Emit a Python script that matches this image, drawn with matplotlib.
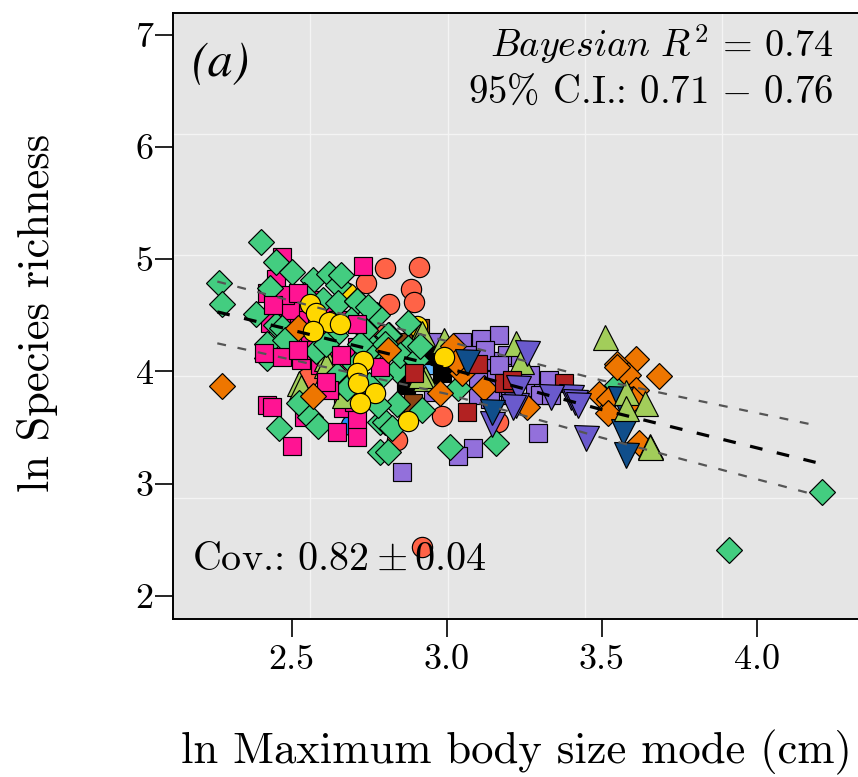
import numpy as np
import matplotlib
matplotlib.use("Agg")
import matplotlib.pyplot as plt

plt.rcParams['font.family'] = ['cmr10', 'DejaVu Sans']
plt.rcParams['mathtext.fontset'] = 'cm'
plt.rcParams['axes.unicode_minus'] = False
plt.rcParams['axes.formatter.use_mathtext'] = True

tomato_x = [2.80,2.74,2.91,2.885,2.895,2.815,2.645,2.55,2.62,2.84,2.985,3.165,2.92,2.785]
tomato_y = [4.92,4.79,4.93,4.73,4.62,4.60,4.13,3.94,4.10,3.39,3.60,3.55,2.44,4.32]
brown_x = [2.89,2.915,2.86,3.0]
brown_y = [3.72,4.39,4.26,4.20]
sky_x = [2.95]
sky_y = [4.07]
dodger_x = [2.69]
dodger_y = [3.52]
yellow_low_x = [2.68,2.905]
yellow_low_y = [4.70,4.40]
pink_low_x = [2.47,2.45,2.42,2.51,2.47,2.43,2.53,2.73,2.71,2.665,2.70,2.54,2.56,2.60,2.65,2.73,2.58,2.525,2.56,2.62,2.67,2.59,2.54,2.495,2.48,2.56,2.61]
pink_low_y = [5.02,4.82,4.70,4.56,4.46,4.43,4.10,4.94,4.22,3.67,3.73,3.59,4.64,4.55,4.46,4.22,4.30,4.46,4.24,4.19,4.01,4.06,4.19,4.55,4.68,4.64,4.32]
purple_x = [3.17,3.11,3.05,3.16,3.10,3.155,3.295,3.085,3.035,2.855,3.285,3.31,3.065,3.215,3.195,3.125,3.235,2.96,2.955,3.14,3.10,3.33,3.17,3.27,3.30,3.24,3.205,3.14,3.335]
purple_y = [4.32,4.29,4.26,4.09,3.79,3.86,3.45,3.32,3.25,3.10,3.82,3.88,4.15,4.13,4.15,4.19,4.13,4.26,3.82,3.92,3.94,3.92,4.06,3.97,3.79,3.70,3.79,3.75,3.79]
black_x = [2.985,2.87,2.935]
black_y = [3.99,3.88,4.15]
lime_low_x = [2.915,2.99,3.225,3.24,2.93,2.525,2.61,2.67,2.53,2.61,2.915,2.92]
lime_low_y = [4.34,4.28,4.25,4.09,3.94,3.90,4.12,3.79,3.86,4.06,3.97,4.34]
green_x = [2.40,2.265,2.275,2.45,2.50,2.43,2.385,2.57,2.62,2.65,2.66,2.54,2.60,2.65,2.71,2.45,2.47,2.42,2.42,2.58,2.645,2.69,2.525,2.56,2.585,2.46,2.785,2.785,2.775,2.775,2.815,2.875,2.76,2.875,2.84,2.785,2.84,2.80,2.92,2.81,3.01,3.035,3.16,3.91,4.21,3.55,2.71,2.745,2.81,2.68,2.825,2.76,2.69,2.735,2.80,2.85,2.72,2.64,2.705,2.75,2.61,2.48,2.90,2.915,2.78]
green_y = [5.15,4.79,4.60,4.97,4.885,4.74,4.51,4.81,4.87,4.77,4.86,4.68,4.64,4.61,4.63,4.41,4.39,4.24,4.12,4.18,3.97,3.90,3.72,3.59,3.51,3.50,3.55,3.28,4.22,4.50,4.32,4.43,4.22,4.21,4.01,3.95,3.71,3.55,3.66,3.28,3.33,3.85,3.36,2.41,2.93,3.88,4.63,4.57,4.32,3.85,3.50,4.22,4.46,4.37,4.24,4.15,4.24,4.32,4.06,3.88,4.24,4.28,4.10,4.23,3.70]
pink_top_x = [2.41,2.47,2.52,2.71,2.66,2.50,2.42,2.645,2.71,2.785,2.435,2.44,2.52,2.62,2.61,2.71]
pink_top_y = [4.16,4.13,4.19,4.42,4.15,3.34,3.70,3.46,3.57,4.04,3.68,4.59,4.70,3.83,3.91,3.42]
orange_x = [2.275,2.52,2.57,3.02,2.98,3.05,3.12,3.26,2.81,3.03,3.61,3.55,3.585,3.685,3.49,3.525,3.52,3.61,3.60,3.62,3.55]
orange_y = [3.87,4.39,3.78,4.23,3.81,3.99,3.85,3.68,4.19,4.08,4.11,4.07,3.97,3.96,3.80,3.75,3.63,3.83,3.75,3.36,4.04]
firebrick_x = [2.895,3.065,3.10,3.185,3.21,3.38]
firebrick_y = [3.99,3.64,4.07,3.90,3.92,3.90]
slate_x = [3.145,3.225,3.23,3.215,3.40,3.335,3.26,3.45,3.415,3.425]
slate_y = [3.53,3.70,3.85,3.68,3.77,3.77,4.16,3.41,3.73,3.70]
navy_x = [3.56,3.065,3.145,3.57,3.58]
navy_y = [3.75,4.08,3.64,3.46,3.26]
lime_x = [3.51,3.58,3.64,3.58,3.655,3.655]
lime_y = [4.31,3.82,3.72,3.67,3.34,3.33]
yellow_x = [2.56,2.58,2.62,2.655,2.57,2.73,2.71,2.715,2.77,2.72,2.875,2.99]
yellow_y = [4.60,4.52,4.44,4.42,4.36,4.09,3.99,3.90,3.81,3.72,3.56,4.13]

fit_x = [2.26,3.0,3.5,4.19]
fit_mid = [4.53,4.03,3.66,3.19]
fit_up = [4.80,4.27,3.92,3.52]
fit_lo = [4.25,3.80,3.41,2.90]

W, H = 858, 777
L, R, T, B = 173, 859.5, 12.5, 619
fig = plt.figure(figsize=(W/100, H/100), dpi=100)
ax = fig.add_axes([L/W, 1-B/H, (R-L)/W, (B-T)/H])
ax.set_facecolor('#E5E5E5')
xlim = (2.5+(L-291.7)/310, 2.5+(R-291.7)/310)
ylim = (2+(596-B)/112.3, 2+(596-T)/112.3)
ax.set_xlim(*xlim); ax.set_ylim(*ylim)
for g in np.linspace(*xlim, 6)[1:-1]:
    ax.axvline(g, color='#F4F4F4', lw=1.0, zorder=1)
for g in np.linspace(*ylim, 6)[1:-1]:
    ax.axhline(g, color='#F4F4F4', lw=1.0, zorder=1)

def pts(x, y, m, c, ms):
    ax.plot(x, y, ls='none', marker=m, mfc=c, mec='black', mew=0.85, ms=ms, zorder=3, clip_on=True)

S, D, C, TR = 13.6, 12.8, 14.6, 18.0
pts(brown_x, brown_y, 's', '#8B4513', S)
pts(sky_x, sky_y, 'o', '#63B8FF', C)
pts(dodger_x, dodger_y, 'o', '#1E90FF', C)
pts(tomato_x, tomato_y, 'o', '#FF6347', C)
pts(yellow_low_x, yellow_low_y, 'o', '#FFD700', C)
pts(pink_low_x, pink_low_y, 's', '#FF1493', S)
pts(purple_x, purple_y, 's', '#9370DB', S)
pts(black_x, black_y, 's', 'black', S)
pts(lime_low_x, lime_low_y, '^', '#A2CD5A', TR)
pts(green_x, green_y, 'D', '#43CD80', D)
pts(pink_top_x, pink_top_y, 's', '#FF1493', S)
pts(orange_x, orange_y, 'D', '#EE7600', D)
pts(firebrick_x, firebrick_y, 's', '#B22222', S)
pts(slate_x, slate_y, 'v', '#6A5ACD', TR)
pts(navy_x, navy_y, 'v', '#104E8B', TR)
pts(lime_x, lime_y, '^', '#A2CD5A', TR)
pts(yellow_x, yellow_y, 'o', '#FFD700', C)

ax.plot(fit_x, fit_up, color='#555555', lw=1.6, dashes=(4.0, 5.3), zorder=5)
ax.plot(fit_x, fit_lo, color='#555555', lw=1.6, dashes=(4.0, 5.3), zorder=5)
ax.plot(fit_x, fit_mid, color='black', lw=2.3, dashes=(4.0, 4.6), zorder=5)

ax.set_xticks([2.5, 3.0, 3.5, 4.0])
ax.set_xticklabels(['2.5', '3.0', '3.5', '4.0'])
ax.set_yticks([2, 3, 4, 5, 6, 7])
ax.set_yticklabels(['2', '3', '4', '5', '6', '7'])
ax.tick_params(axis='x', length=13, width=1.2, labelsize=26, pad=5)
ax.tick_params(axis='y', length=13, width=1.2, labelsize=26, pad=1)
for s in ax.spines.values():
    s.set_linewidth(1.4)
ax.spines['right'].set_visible(False)

fig.text(516/W, 1-752/H, 'ln Maximum body size mode (cm)', fontsize=32.2, ha='center', va='center')
fig.text(38/W, 1-313/H, 'ln Species richness', fontsize=32, rotation=90, ha='center', va='center')

def t(px, py, s, ha, size, **kw):
    fig.text(px/W, 1-py/H, s, fontsize=size, ha=ha, va='center', zorder=10, **kw)

t(192, 64, '(a)', 'left', 36, family='STIXGeneral', style='italic')
t(833, 45, r'$Bayesian\ R^2\,=\,0.74$', 'right', 27.5)
t(833, 93, r'95% C.I.: $0.71\,-\,0.76$', 'right', 28)
t(192, 560, r'Cov.: $0.82 \pm 0.04$', 'left', 28.9)

fig.savefig('out.png', dpi=100)
